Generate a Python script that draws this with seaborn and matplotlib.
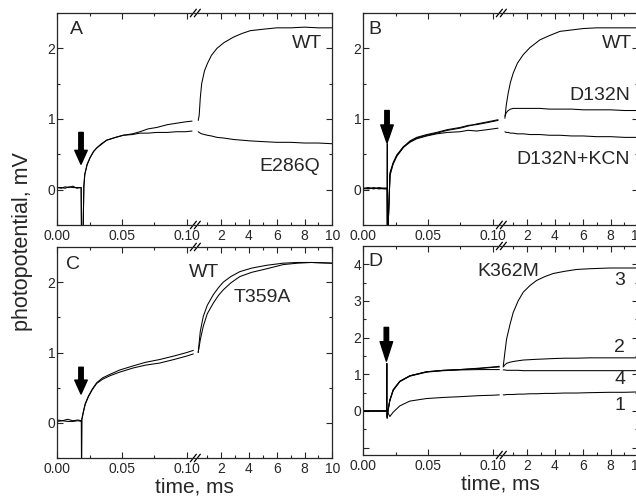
import numpy as np
import matplotlib
matplotlib.use("Agg")
import matplotlib.pyplot as plt
import seaborn as sns

# ==========================
# DATA (time in ms, photopotential in mV)
# ==========================

# panel A
a_t_left = [0.000, 0.003, 0.006, 0.009, 0.012, 0.015, 0.0184, 0.0187, 0.0198, 0.0205, 0.0212, 0.0230,
            0.0252, 0.0280, 0.0304, 0.0340, 0.0381, 0.0450, 0.0509, 0.0580, 0.0638, 0.0700, 0.0767,
            0.0850, 0.0920, 0.0990, 0.1040]
a_wt_left = [0.03, 0.02, 0.04, 0.03, 0.05, 0.02, 0.03, -0.70, -0.70, 0.05, 0.22, 0.36, 0.45, 0.54, 0.59,
             0.65, 0.70, 0.74, 0.77, 0.79, 0.82, 0.86, 0.88, 0.92, 0.94, 0.96, 0.97]
a_e286q_left = [0.03, 0.03, 0.02, 0.04, 0.03, 0.03, 0.03, -0.70, -0.70, 0.04, 0.21, 0.35, 0.45, 0.54, 0.59,
                0.64, 0.70, 0.74, 0.77, 0.78, 0.80, 0.80, 0.81, 0.81, 0.82, 0.82, 0.83]
a_t_right = [0.35, 0.42, 0.50, 0.60, 0.80, 1.00, 1.30, 1.70, 2.20, 2.90, 3.50, 4.10, 5.00, 6.00, 7.00,
             8.00, 9.00, 10.0]
a_wt_right = [0.98, 1.05, 1.30, 1.50, 1.68, 1.78, 1.90, 2.00, 2.08, 2.16, 2.21, 2.25, 2.27, 2.29, 2.29,
              2.30, 2.29, 2.29]
a_e286q_right = [0.82, 0.81, 0.80, 0.79, 0.78, 0.77, 0.76, 0.74, 0.73, 0.71, 0.70, 0.69, 0.68, 0.67, 0.67,
                 0.66, 0.66, 0.65]

# panel B
b_t_left = [0.000, 0.004, 0.008, 0.012, 0.016, 0.0183, 0.0185, 0.0188, 0.0200, 0.0206, 0.0230, 0.0258,
            0.0310, 0.0360, 0.0412, 0.0490, 0.0566, 0.0650, 0.0746, 0.0810, 0.0875, 0.0960, 0.1040]
b_wt_left = [0.02, 0.03, 0.01, 0.03, 0.02, 0.02, -0.70, -0.70, -0.10, 0.24, 0.38, 0.49, 0.61, 0.68, 0.73,
             0.77, 0.80, 0.84, 0.87, 0.90, 0.93, 0.96, 0.99]
b_d132n_left = [0.01, 0.02, 0.02, 0.02, 0.01, 0.01, 0.65, -0.70, -0.10, 0.22, 0.37, 0.48, 0.60, 0.69, 0.74,
                0.78, 0.81, 0.85, 0.88, 0.91, 0.92, 0.95, 0.98]
b_kcn_left = [0.02, 0.01, 0.03, 0.01, 0.02, 0.02, -0.70, -0.70, -0.10, 0.20, 0.36, 0.47, 0.60, 0.67, 0.72,
              0.76, 0.79, 0.81, 0.82, 0.84, 0.83, 0.85, 0.87]
b_t_right = [0.40, 0.50, 0.64, 0.80, 1.00, 1.30, 1.72, 2.20, 2.92, 3.60, 4.36, 5.20, 6.04, 7.00, 8.00,
             9.00, 10.0]
b_wt_right = [1.01, 1.20, 1.37, 1.52, 1.65, 1.79, 1.91, 2.01, 2.12, 2.18, 2.24, 2.26, 2.28, 2.29, 2.29,
              2.29, 2.29]
b_d132n_right = [1.04, 1.09, 1.12, 1.14, 1.15, 1.15, 1.15, 1.15, 1.15, 1.14, 1.14, 1.14, 1.13, 1.13, 1.13,
                 1.12, 1.12]
b_kcn_right = [0.82, 0.81, 0.81, 0.80, 0.80, 0.79, 0.79, 0.78, 0.78, 0.77, 0.77, 0.76, 0.76, 0.75, 0.75,
               0.74, 0.74]

# panel C
c_t_left = [0.000, 0.004, 0.008, 0.012, 0.016, 0.0186, 0.0187, 0.0189, 0.0200, 0.0215, 0.0240, 0.0270,
            0.0304, 0.0350, 0.0407, 0.0480, 0.0586, 0.0680, 0.0790, 0.0900, 0.1000, 0.1050]
c_wt_left = [0.04, 0.03, 0.05, 0.03, 0.04, 0.03, -0.70, 0.05, 0.15, 0.27, 0.38, 0.48, 0.57, 0.64, 0.69,
             0.75, 0.81, 0.86, 0.90, 0.95, 1.00, 1.03]
c_t359a_left = [0.02, 0.03, 0.02, 0.02, 0.03, 0.02, -0.70, 0.04, 0.14, 0.26, 0.37, 0.47, 0.56, 0.62, 0.67,
                0.72, 0.78, 0.82, 0.85, 0.90, 0.95, 0.98]
c_t_right = [0.35, 0.50, 0.71, 1.00, 1.43, 1.80, 2.15, 2.70, 3.35, 4.20, 5.27, 6.47, 7.50, 8.50, 10.0]
c_wt_right = [1.00, 1.30, 1.51, 1.67, 1.82, 1.92, 2.00, 2.08, 2.15, 2.20, 2.24, 2.27, 2.28, 2.28, 2.27]
c_t359a_right = [1.00, 1.18, 1.37, 1.55, 1.70, 1.81, 1.89, 1.99, 2.08, 2.14, 2.19, 2.25, 2.27, 2.28, 2.27]

# panel D (K362M, traces 1-4)
d_t_left = [0.000, 0.005, 0.010, 0.015, 0.0180, 0.0182, 0.0184, 0.0190, 0.0205, 0.0231, 0.0282, 0.0359,
            0.0488, 0.0620, 0.0745, 0.0900, 0.1000, 0.1050]
d_3_left = [0.00, 0.00, 0.00, 0.00, 0.00, 1.30, -0.20, 0.00, 0.30, 0.58, 0.81, 0.96, 1.07, 1.11, 1.13,
            1.17, 1.20, 1.22]
d_2_left = [0.00, 0.00, 0.00, 0.00, 0.00, 0.00, -0.15, 0.00, 0.30, 0.58, 0.81, 0.96, 1.07, 1.11, 1.13,
            1.16, 1.19, 1.20]
d_4_left = [0.00, 0.00, 0.00, 0.00, 0.00, 0.00, -0.15, 0.00, 0.28, 0.56, 0.80, 0.95, 1.06, 1.10, 1.12,
            1.13, 1.13, 1.13]
d_1_left = [0.00, 0.00, 0.00, 0.00, 0.00, 0.00, 0.00, -0.05, -0.15, -0.03, 0.14, 0.27, 0.34, 0.37, 0.39,
            0.42, 0.43, 0.44]
d_t_right = [0.28, 0.40, 0.52, 0.76, 1.00, 1.35, 1.72, 2.20, 2.68, 3.30, 3.88, 4.70, 5.56, 6.50, 7.96,
             9.00, 10.0]
d_3_right = [1.22, 1.60, 1.96, 2.35, 2.69, 3.00, 3.24, 3.42, 3.56, 3.67, 3.75, 3.81, 3.86, 3.88, 3.90,
             3.90, 3.90]
d_2_right = [1.20, 1.26, 1.30, 1.33, 1.35, 1.37, 1.39, 1.40, 1.41, 1.42, 1.43, 1.44, 1.44, 1.45, 1.45,
             1.45, 1.45]
d_4_right = [1.12, 1.12, 1.11, 1.11, 1.11, 1.11, 1.10, 1.10, 1.10, 1.10, 1.10, 1.10, 1.10, 1.10, 1.10,
             1.10, 1.10]
d_1_right = [0.44, 0.44, 0.45, 0.45, 0.45, 0.46, 0.46, 0.47, 0.47, 0.48, 0.48, 0.49, 0.49, 0.50, 0.51,
             0.51, 0.52]

x_ticks = [0.0, 0.05, 0.10, 2, 4, 6, 8, 10]
x_tick_labels = ["0.00", "0.05", "0.10", "2", "4", "6", "8", "10"]
x_minor = [0.025, 0.075, 1, 3, 5, 7, 9]

# ==========================
# BROKEN TIME AXIS (0-0.105 ms linear, then 0-10 ms compressed)
# ==========================

BRK = 0.105
SQUEEZE = 13.9 / 1296


def fwd(t):
    t = np.asarray(t, dtype=float)
    return np.where(t <= BRK, t, BRK + t * SQUEEZE)


def inv(u):
    u = np.asarray(u, dtype=float)
    return np.where(u <= BRK, u, (u - BRK) / SQUEEZE)


sns.set_style("ticks")
plt.rcParams["font.family"] = ["Liberation Sans", "DejaVu Sans"]

fig = plt.figure(figsize=(6.36, 4.97), dpi=100)

W = 275 / 636
ax_a = fig.add_axes([57.3 / 636, 1 - 225 / 497, W, 212 / 497])
ax_b = fig.add_axes([363.3 / 636, 1 - 225 / 497, W, 212 / 497])
ax_c = fig.add_axes([57.3 / 636, 1 - 458 / 497, W, 211 / 497])
ax_d = fig.add_axes([363.3 / 636, 1 - 455 / 497, W, 209 / 497])


def trace(ax, t, y):
    sns.lineplot(x=t, y=y, ax=ax, color="black", linewidth=0.75, sort=False, estimator=None)


def setup(ax, ylim, yticks, ylabels, yminor):
    ax.set_xscale("function", functions=(fwd, inv))
    ax.set_xlim(0, 10)
    ax.set_ylim(*ylim)
    ax.set_xticks(x_ticks)
    ax.set_xticklabels(x_tick_labels)
    ax.set_xticks(x_minor, minor=True)
    ax.set_yticks(yticks)
    ax.set_yticklabels(ylabels)
    ax.set_yticks(yminor, minor=True)
    ax.set_xlabel("")
    ax.set_ylabel("")
    ax.tick_params(which="both", direction="in", top=True, right=True, width=0.8, labelsize=10)
    ax.tick_params(which="major", length=4)
    ax.tick_params(which="minor", length=2.5)
    ax.tick_params(axis="x", pad=3)
    ax.tick_params(axis="y", pad=1.5)
    for s in ax.spines.values():
        s.set_linewidth(0.9)
    # break marks on top and bottom spines
    bx = BRK / float(fwd(10))
    for yy in (0, 1):
        for off in (0.0, 0.0145):
            ax.plot([bx - 0.011 + off, bx + 0.011 + off], [yy - 0.018, yy + 0.018],
                    transform=ax.transAxes, color="black", lw=0.9, clip_on=False)


def arrow(ax, x, tail, tip, head_len):
    ax.annotate("", xy=(x, tip), xytext=(x, tail),
                arrowprops=dict(facecolor="black", edgecolor="black", width=3.2,
                                headwidth=9, headlength=head_len))


# ==========================
# PANEL A
# ==========================

trace(ax_a, a_t_left, a_wt_left)
trace(ax_a, a_t_left, a_e286q_left)
trace(ax_a, a_t_right, a_wt_right)
trace(ax_a, a_t_right, a_e286q_right)
setup(ax_a, (-0.5, 2.5), [0, 1, 2], ["0", "1", "2"], [-0.5, 0.5, 1.5, 2.5])
arrow(ax_a, 0.0183, 0.81, 0.36, 10)
ax_a.text(0.045, 0.92, "A", transform=ax_a.transAxes, fontsize=14, va="center")
ax_a.text(0.963, 0.858, "WT", transform=ax_a.transAxes, fontsize=14, ha="right", va="center")
ax_a.text(0.955, 0.274, "E286Q", transform=ax_a.transAxes, fontsize=14, ha="right", va="center")

# ==========================
# PANEL B
# ==========================

trace(ax_b, b_t_left, b_wt_left)
trace(ax_b, b_t_left, b_d132n_left)
trace(ax_b, b_t_left, b_kcn_left)
trace(ax_b, b_t_right, b_wt_right)
trace(ax_b, b_t_right, b_d132n_right)
trace(ax_b, b_t_right, b_kcn_right)
setup(ax_b, (-0.5, 2.5), [0, 1, 2], ["0", "1", "2"], [-0.5, 0.5, 1.5, 2.5])
arrow(ax_b, 0.0183, 1.12, 0.66, 13)
ax_b.text(0.02, 0.92, "B", transform=ax_b.transAxes, fontsize=14, va="center")
ax_b.text(0.977, 0.858, "WT", transform=ax_b.transAxes, fontsize=14, ha="right", va="center")
ax_b.text(0.97, 0.613, "D132N", transform=ax_b.transAxes, fontsize=14, ha="right", va="center")
ax_b.text(0.97, 0.307, "D132N+KCN", transform=ax_b.transAxes, fontsize=14, ha="right", va="center")

# ==========================
# PANEL C
# ==========================

trace(ax_c, c_t_left, c_wt_left)
trace(ax_c, c_t_left, c_t359a_left)
trace(ax_c, c_t_right, c_wt_right)
trace(ax_c, c_t_right, c_t359a_right)
setup(ax_c, (-0.5, 2.5), [0, 1, 2], ["0", "1", "2"], [-0.5, 0.5, 1.5, 2.5])
arrow(ax_c, 0.0183, 0.79, 0.41, 10)
ax_c.text(0.03, 0.919, "C", transform=ax_c.transAxes, fontsize=14, va="center")
ax_c.text(0.534, 0.877, "WT", transform=ax_c.transAxes, fontsize=14, ha="center", va="center")
ax_c.text(0.744, 0.763, "T359A", transform=ax_c.transAxes, fontsize=14, ha="center", va="center")
ax_c.set_xlabel("time, ms", fontsize=15, labelpad=1)

# ==========================
# PANEL D
# ==========================

trace(ax_d, d_t_left, d_3_left)
trace(ax_d, d_t_left, d_2_left)
trace(ax_d, d_t_left, d_4_left)
trace(ax_d, d_t_left, d_1_left)
trace(ax_d, d_t_right, d_3_right)
trace(ax_d, d_t_right, d_2_right)
trace(ax_d, d_t_right, d_4_right)
trace(ax_d, d_t_right, d_1_right)
setup(ax_d, (-1.2, 4.5), [-1, 0, 1, 2, 3, 4], ["", "0", "1", "2", "3", "4"],
      [-0.5, 0.5, 1.5, 2.5, 3.5])
arrow(ax_d, 0.0178, 2.28, 1.36, 14)
ax_d.text(0.02, 0.928, "D", transform=ax_d.transAxes, fontsize=14, va="center")
ax_d.text(0.526, 0.876, "K362M", transform=ax_d.transAxes, fontsize=14, ha="center", va="center")
ax_d.text(0.933, 0.837, "3", transform=ax_d.transAxes, fontsize=14, ha="center", va="center")
ax_d.text(0.933, 0.512, "2", transform=ax_d.transAxes, fontsize=14, ha="center", va="center")
ax_d.text(0.933, 0.359, "4", transform=ax_d.transAxes, fontsize=14, ha="center", va="center")
ax_d.text(0.933, 0.239, "1", transform=ax_d.transAxes, fontsize=14, ha="center", va="center")
ax_d.set_xlabel("time, ms", fontsize=15, labelpad=1)

fig.text(0.036, 1 - 242 / 497, "photopotential, mV", rotation=90, fontsize=15.5,
         ha="center", va="center")

fig.savefig("out.png", dpi=100)
